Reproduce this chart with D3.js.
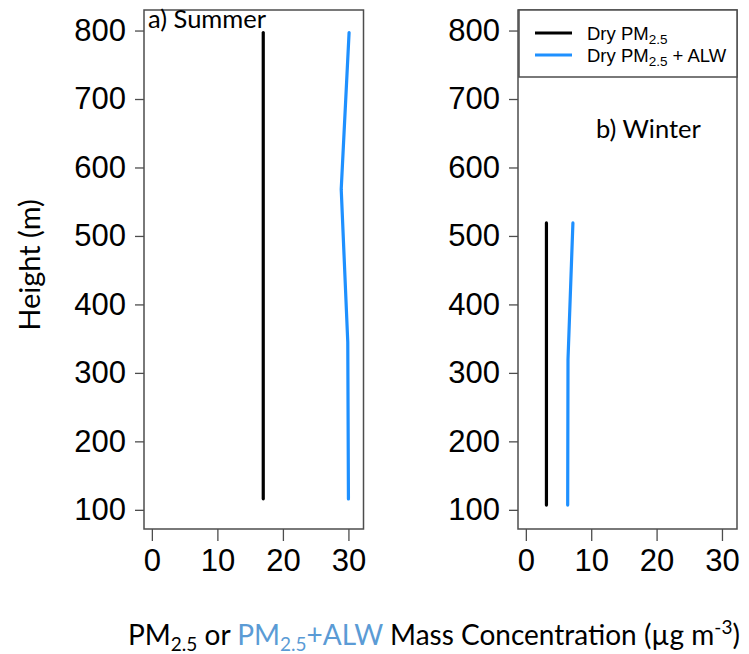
<!DOCTYPE html>
<html>
<head>
<meta charset="utf-8">
<script src="https://cdn.jsdelivr.net/npm/d3@7"></script>
<style>
  html, body { margin: 0; padding: 0; background: #fff; }
  svg { display: block; }
</style>
</head>
<body>
<svg id="chart" width="749" height="654"></svg>
<script>
// Vertical profiles of PM2.5 mass (dry vs. with aerosol liquid water)
const heightTicks = [100, 200, 300, 400, 500, 600, 700, 800];
const massTicks = [0, 10, 20, 30];

const summerHeight = [116, 345, 568, 797];
const summerDry    = [17.0, 17.0, 17.0, 17.0];
const summerWet    = [30.0, 29.9, 28.9, 30.1];

const winterHeight = [107, 320, 519];
const winterDry    = [3.15, 3.15, 3.15];
const winterWet    = [6.4, 6.45, 7.2];

const legendLabels = ["Dry PM", "Dry PM"];
const colDry = "#000000";
const colWet = "#1E90FF";
const axisCol = "#4d4d4d";

const svg = d3.select("#chart");
const numFont = "'Liberation Sans', Arial, sans-serif";
const textFont = "Lato, 'Open Sans', sans-serif";

const y = d3.scaleLinear().domain([72, 830]).range([529, 10]);

const panels = [
  { left: 144, right: 363.5, title: "a) Summer", tx: 148, ty: 28,
    h: summerHeight, dry: summerDry, wet: summerWet },
  { left: 518, right: 737, title: "b) Winter", tx: 596, ty: 138,
    h: winterHeight, dry: winterDry, wet: winterWet }
];

panels.forEach((p, i) => {
  const x = d3.scaleLinear().domain([-1.2, 32.3]).range([p.left, p.right]);
  const g = svg.append("g");

  // y axis
  const ya = g.append("g")
    .attr("transform", `translate(${p.left},0)`)
    .call(d3.axisLeft(y).tickValues(heightTicks).tickSize(9).tickPadding(9).tickFormat(d3.format("d")));
  ya.select(".domain").remove();
  ya.selectAll("line").attr("stroke", axisCol).attr("stroke-width", 1.3);
  ya.selectAll("text").attr("font-family", numFont).attr("font-size", 31).attr("fill", "#000");

  // x axis
  const xa = g.append("g")
    .attr("transform", `translate(0,529)`)
    .call(d3.axisBottom(x).tickValues(massTicks).tickSize(12).tickPadding(8));
  xa.select(".domain").remove();
  xa.selectAll("line").attr("stroke", axisCol).attr("stroke-width", 1.3);
  xa.selectAll("text").attr("font-family", numFont).attr("font-size", 31).attr("fill", "#000");

  // frame
  g.append("rect")
    .attr("x", p.left).attr("y", 10)
    .attr("width", p.right - p.left).attr("height", 519)
    .attr("fill", "none").attr("stroke", axisCol).attr("stroke-width", 1.5);

  const line = d3.line().x(d => x(d[0])).y(d => y(d[1]));
  const dryPts = p.h.map((h, k) => [p.dry[k], h]);
  const wetPts = p.h.map((h, k) => [p.wet[k], h]);

  g.append("path").datum(dryPts).attr("d", line)
    .attr("fill", "none").attr("stroke", colDry).attr("stroke-width", 3.2)
    .attr("stroke-linecap", "round").attr("stroke-linejoin", "round");
  g.append("path").datum(wetPts).attr("d", line)
    .attr("fill", "none").attr("stroke", colWet).attr("stroke-width", 3.2)
    .attr("stroke-linecap", "round").attr("stroke-linejoin", "round");

  g.append("text")
    .attr("x", p.tx).attr("y", p.ty)
    .attr("font-family", textFont).attr("font-size", 25.5)
    .attr("fill", "#000")
    .text(p.title);
});

// legend in the top-right corner of panel b
const lg = svg.append("g");
lg.append("rect")
  .attr("x", 519).attr("y", 10).attr("width", 218).attr("height", 67)
  .attr("fill", "#fff").attr("stroke", axisCol).attr("stroke-width", 1.5);
const legendRows = [
  { col: colDry, label: legendLabels[0], extra: "", y: 33 },
  { col: colWet, label: legendLabels[1], extra: " + ALW", y: 55 }
];
legendRows.forEach(r => {
  lg.append("line")
    .attr("x1", 535).attr("x2", 572).attr("y1", r.y).attr("y2", r.y)
    .attr("stroke", r.col).attr("stroke-width", 3.2);
  const t = lg.append("text")
    .attr("x", 587).attr("y", r.y + 6.5)
    .attr("font-family", numFont).attr("font-size", 18.5).attr("fill", "#000");
  t.append("tspan").text(r.label);
  t.append("tspan").attr("font-size", 13.5).attr("dy", 4).text("2.5");
  if (r.extra) t.append("tspan").attr("dy", -4).text(r.extra);
});

// y title
svg.append("text")
  .attr("transform", "translate(40,265) rotate(-90)")
  .attr("text-anchor", "middle")
  .attr("font-family", textFont).attr("font-size", 29).attr("fill", "#000")
  .text("Height (m)");

// x title
const xt = svg.append("text")
  .attr("x", 128).attr("y", 645)
  .attr("font-family", textFont).attr("font-size", 28).attr("fill", "#000");
xt.append("tspan").text("PM");
xt.append("tspan").attr("font-size", 19).attr("dy", 6).text("2.5");
xt.append("tspan").attr("dy", -6).text(" or ");
xt.append("tspan").attr("fill", "#5B9BD5").text("PM");
xt.append("tspan").attr("fill", "#5B9BD5").attr("font-size", 19).attr("dy", 6).text("2.5");
xt.append("tspan").attr("fill", "#5B9BD5").attr("dy", -6).text("+ALW");
xt.append("tspan").text(" Mass Concentration (µg m");
xt.append("tspan").attr("font-size", 19).attr("dy", -11).text("-3");
xt.append("tspan").attr("dy", 11).text(")");
</script>
</body>
</html>
